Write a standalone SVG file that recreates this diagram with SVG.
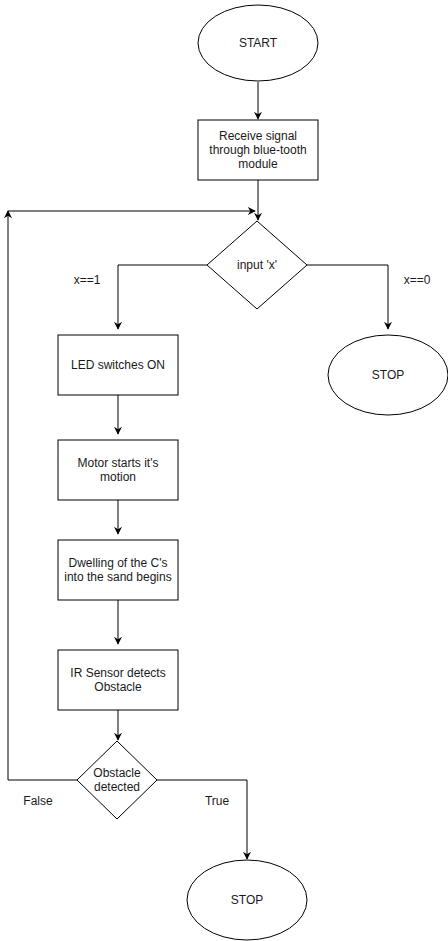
<svg xmlns="http://www.w3.org/2000/svg" width="448" height="941" viewBox="0 0 448 941">
<style>
.s{fill:#fff;stroke:#000;stroke-width:1}
.e{fill:none;stroke:#000;stroke-width:1}
text{font-family:"Liberation Sans",Arial,sans-serif;font-size:12px;fill:#1a1a1a;text-anchor:middle}
</style>
<defs>
<marker id="a" viewBox="0 0 10 10" refX="9" refY="5" markerWidth="8" markerHeight="8" markerUnits="userSpaceOnUse" orient="auto">
<path d="M0,0 L10,5 L0,10 L3,5 Z" fill="#000"/>
</marker>
</defs>
<rect width="448" height="941" fill="#fff"/>
<g id="connectors">
<path class="e" d="M258,82 V119" marker-end="url(#a)"/>
<path class="e" d="M258,180 V220" marker-end="url(#a)"/>
<path class="e" d="M207,265 H118 V329" marker-end="url(#a)"/>
<path class="e" d="M307,265 H388 V329" marker-end="url(#a)"/>
<path class="e" d="M118,395 V434" marker-end="url(#a)"/>
<path class="e" d="M118,500 V534" marker-end="url(#a)"/>
<path class="e" d="M118,600 V644" marker-end="url(#a)"/>
<path class="e" d="M118,710 V740" marker-end="url(#a)"/>
<path class="e" d="M77,780 H8 V211" marker-end="url(#a)"/>
<path class="e" d="M8,211 H255" marker-end="url(#a)"/>
<path class="e" d="M157,780 H247 V859" marker-end="url(#a)"/>
<text x="87" y="284">x==1</text>
<text x="417" y="284">x==0</text>
<text x="38" y="805">False</text>
<text x="217" y="805">True</text>
</g>
<g id="start"><ellipse class="s" cx="258" cy="43" rx="60" ry="38"/><text x="258" y="47">START</text></g>
<g id="receive"><rect class="s" x="198" y="120" width="120" height="60"/><text x="258" y="140">Receive signal</text><text x="258" y="154">through blue-tooth</text><text x="258" y="168">module</text></g>
<g id="input"><path class="s" d="M257,221 L307,265 L257,309 L207,265 Z"/><text x="257" y="269">input 'x'</text></g>
<g id="led"><rect class="s" x="58" y="335" width="120" height="60"/><text x="118" y="369">LED switches ON</text></g>
<g id="stop1"><ellipse class="s" cx="388" cy="375" rx="60" ry="40"/><text x="388" y="379">STOP</text></g>
<g id="motor"><rect class="s" x="58" y="440" width="120" height="60"/><text x="118" y="467">Motor starts it's</text><text x="118" y="481">motion</text></g>
<g id="dwelling"><rect class="s" x="58" y="540" width="120" height="60"/><text x="118" y="567">Dwelling of the C's</text><text x="118" y="581">into the sand begins</text></g>
<g id="ir"><rect class="s" x="58" y="650" width="120" height="60"/><text x="118" y="677">IR Sensor detects</text><text x="118" y="691">Obstacle</text></g>
<g id="obstacle"><path class="s" d="M117,741 L157,780 L117,819 L77,780 Z"/><text x="117" y="777">Obstacle</text><text x="117" y="791">detected</text></g>
<g id="stop2"><ellipse class="s" cx="247" cy="900" rx="60" ry="40"/><text x="247" y="904">STOP</text></g>
</svg>
